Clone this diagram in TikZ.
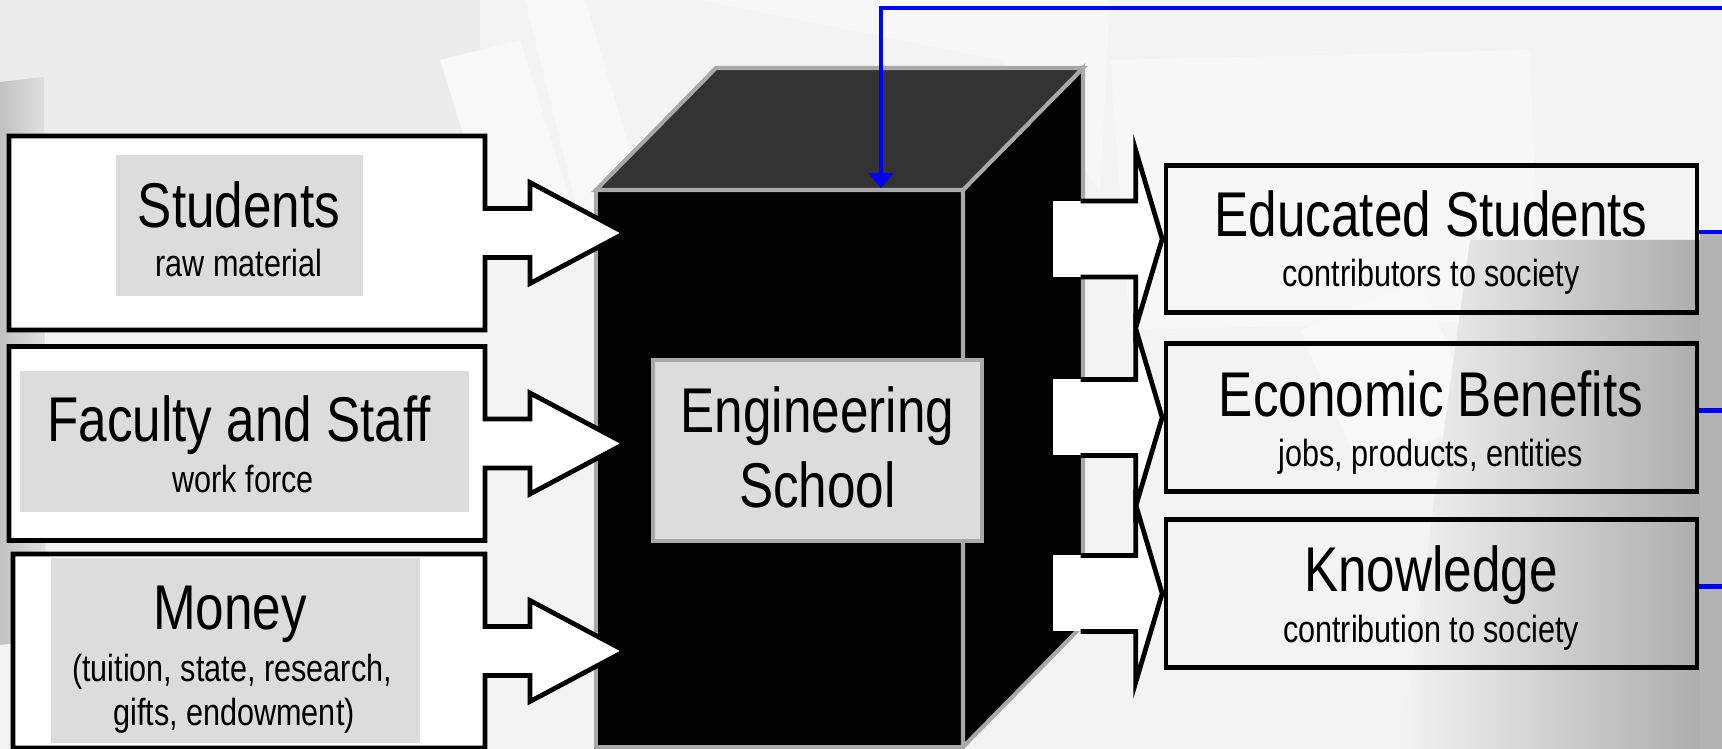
\documentclass[tikz,border=0pt]{standalone}
\usepackage{fontspec}
\setmainfont[FakeStretch=0.81]{Liberation Sans}
\usetikzlibrary{arrows.meta,calc}

\definecolor{paper}{HTML}{F3F3F3}
\definecolor{labelgray}{HTML}{DCDCDC}
\definecolor{edgegray}{HTML}{A8A8A8}
\definecolor{lidgray}{HTML}{333333}
\definecolor{loopblue}{HTML}{0000FF}

\begin{document}
\begin{tikzpicture}[x=0.02cm, y=-0.02cm, line join=miter,
    headtext/.style={font=\fontsize{36}{40}\selectfont, anchor=base, inner sep=0pt},
    subtext/.style={font=\fontsize{21.5}{25}\selectfont, anchor=base, inner sep=0pt},
    callout/.style={draw=black, fill=white, line width=2.7pt},
    tag/.style={fill=labelgray, inner sep=0pt},
    outbox/.style={draw=black, line width=2.7pt, inner sep=0pt, minimum width=10.62cm, minimum height=2.95cm},
    cubeface/.style={fill=black, draw=edgegray, line width=2.3pt},
    loopline/.style={draw=loopblue, line width=2.7pt}]
                \useasboundingbox (0,0) rectangle (1722,749);

                % background
                \fill[paper] (0,0) rectangle (1722,749);
                \fill[black!3!paper] (0,0) rectangle (480,180);
                \fill[white!45!paper] (525,0) -- (585,0) -- (660,250) -- (590,260) -- cycle;
                \fill[white!40!paper] (440,60) -- (520,40) -- (570,200) -- (490,220) -- cycle;
                \fill[white!35!paper] (700,0) -- (1110,0) -- (1100,190) -- (1000,60) -- cycle;
                \fill[white!35!paper] (1110,60) -- (1530,50) -- (1540,320) -- (1130,330) -- cycle;
                \fill[white!40!paper] (1300,330) -- (1420,280) -- (1480,420) -- (1360,470) -- cycle;
                \shade[left color=black!24, right color=black!12] (0,82) -- (44,77) -- (46,640) -- (0,645) -- cycle;
                \shade[left color=paper, right color=black!34] (1400,749) -- (1470,240) -- (1722,240) -- (1722,749) -- cycle;
                \fill[black!30] (1700,232) rectangle (1722,749);

                % cube
                \coordinate (lid) at (881,188);
                \draw[cubeface] (596,190) rectangle (963,747);
                \draw[cubeface] (963,190) -- (1083,68) -- (1083,625) -- (963,747) -- cycle;
                \draw[cubeface, fill=lidgray] (596,190) -- (716,68) -- (1083,68) -- (963,190) -- cycle;

                % inputs
                \foreach \cy/\lx in {233/9, 443.5/9, 651/13} {
                    \draw[callout] (\lx,\cy-97) -- (485,\cy-97) -- (485,\cy-24.5) -- (530,\cy-24.5) -- (530,\cy-50.5)
                        -- (625,\cy) -- (530,\cy+50.5) -- (530,\cy+24.5) -- (485,\cy+24.5) -- (485,\cy+97) -- (\lx,\cy+97) -- cycle;
                }

                \node[tag, minimum width=4.94cm, minimum height=2.82cm] (studtag) at (239.5,225.5) {};
                \node[headtext] (stud) at (239,228) {Students};
                \node[subtext] (studsub) at (239,277) {raw material};

                \node[tag, minimum width=8.98cm, minimum height=2.82cm] (factag) at (244.5,441.5) {};
                \node[headtext] (fac) at (239,442) {Faculty and Staff};
                \node[subtext] (facsub) at (243,493) {work force};

                \node[tag, minimum width=7.38cm, minimum height=3.7cm] (montag) at (235.5,650.5) {};
                \node[headtext] (mon) at (230,630) {Money};
                \node[subtext] (monsub) at (232,682) {(tuition, state, research,};
                \node[subtext] (monsubb) at (234,725) {gifts, endowment)};

                % outputs
                \node[outbox] (edu) at (1431.5,239) {};
                \node[outbox] (econ) at (1431.5,417.5) {};
                \node[outbox] (know) at (1431.5,593.5) {};

                \foreach \n in {edu, econ, know} {
                    \fill[white] ($(\n.west)+(-111,-38)$) rectangle ($(\n.west)+(-80,38)$);
                    \filldraw[callout] ($(\n.west)+(-83,-38)$) -- ($(\n.west)+(-28,-38)$) -- ($(\n.west)+(-28,-89)$)
                        -- ($(\n.west)+(-1.5,0)$) -- ($(\n.west)+(-28,89)$) -- ($(\n.west)+(-28,38)$) -- ($(\n.west)+(-83,38)$);
                }

                \node[headtext] (edut) at (1431,237) {Educated Students};
                \node[subtext] (edusub) at (1431,287) {contributors to society};
                \node[headtext] (econt) at (1431,417) {Economic Benefits};
                \node[subtext] (econsub) at (1431,467) {jobs, products, entities};
                \node[headtext] (knowt) at (1431,592) {Knowledge};
                \node[subtext] (knowsub) at (1431,643) {contribution to society};

                % school
                \node[tag, draw=edgegray, line width=2.3pt, minimum width=6.58cm, minimum height=3.62cm] (engtag) at (817.5,450.5) {};
                \node[headtext] (eng) at (817.5,433) {Engineering};
                \node[headtext] (school) at (817.5,508) {School};

                % feedback loop
                \coordinate (loop) at (1722,8);
                \draw[loopline, -{Triangle[width=14pt,length=8.5pt]}] (loop) -| (lid);
                \foreach \n in {edu, econ, know} { \draw[loopline] ([yshift=4pt]\n.east) -- ++(30,0); }
            \end{tikzpicture}
\end{document}
